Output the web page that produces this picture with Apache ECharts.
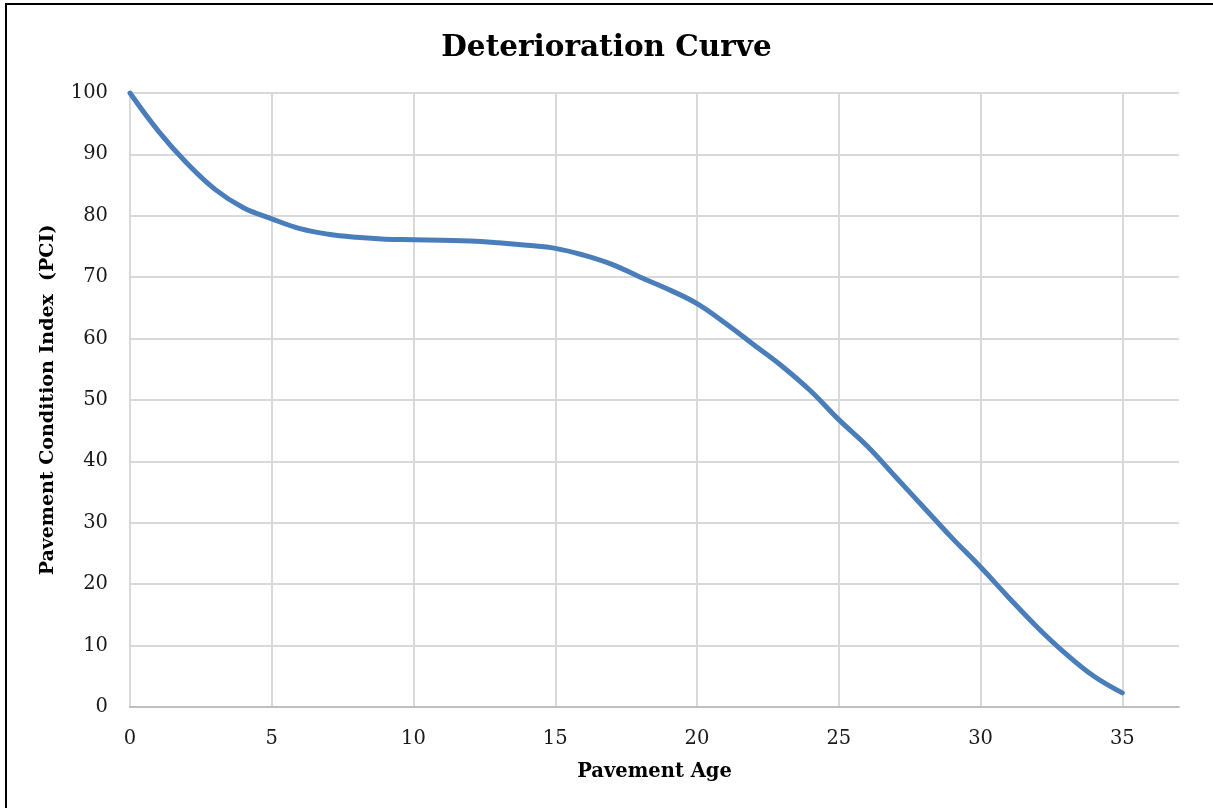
<!DOCTYPE html>
<html>
<head>
<meta charset="utf-8">
<title>Deterioration Curve</title>
<script src="https://cdn.jsdelivr.net/npm/echarts@6/dist/echarts.min.js"></script>
<style>
  html, body { margin: 0; padding: 0; background: #fff; overflow: hidden; width: 1213px; height: 808px; }
  .frame {
    position: absolute;
    left: 5px;
    top: 3px;
    width: 1300px;
    height: 900px;
    border: 2px solid #000;
  }
  #chart { position: absolute; left: 0; top: 0; width: 1213px; height: 808px; }
</style>
</head>
<body>
<div class="frame"></div>
<div id="chart"></div>
<script>
// pavement age (years) and PCI
const ages = [0, 1, 2, 3, 4, 5, 6, 7, 8, 9, 10, 11, 12, 13, 14, 15, 16, 17,
  18, 19, 20, 21, 22, 23, 24, 25, 26, 27, 28, 29, 30, 31, 32, 33, 34, 35];
const pci = [100, 93.8, 88.6, 84.3, 81.3, 79.5, 77.9, 77.0, 76.5, 76.2, 76.1,
  76.0, 75.9, 75.6, 75.2, 74.7, 73.6, 72.1, 70.0, 68.0, 65.7, 62.5, 59.0,
  55.5, 51.5, 46.8, 42.5, 37.5, 32.5, 27.5, 22.8, 17.8, 13.0, 8.7, 5.0, 2.3];
const xTicks = [0, 5, 10, 15, 20, 25, 30, 35];

const serif = "'DejaVu Serif', 'Liberation Serif', serif";

const chart = echarts.init(document.getElementById("chart"));
chart.setOption({
  backgroundColor: "transparent",
  animation: false,
  title: {
    text: "Deterioration Curve",
    left: "center",
    top: 28,
    textStyle: { fontFamily: serif, fontSize: 29.5, fontWeight: "bold", color: "#000" }
  },
  grid: { left: 130, right: 34, top: 93, bottom: 101 },
  xAxis: {
    type: "value",
    min: 0,
    max: 37,
    interval: 5,
    name: "Pavement Age",
    nameLocation: "middle",
    nameGap: 55,
    nameTextStyle: { fontFamily: serif, fontSize: 19.5, fontWeight: "bold", color: "#000" },
    axisLine: { show: true, lineStyle: { color: "#bfbfbf", width: 2 } },
    axisTick: { show: false },
    axisLabel: {
      margin: 22,
      fontFamily: serif,
      fontSize: 19.5,
      color: "#1a1a1a",
      formatter: v => (xTicks.includes(v) ? String(v) : "")
    },
    splitLine: { show: true, showMaxLine: false, lineStyle: { color: "#d9d9d9", width: 2 } }
  },
  yAxis: {
    type: "value",
    min: 0,
    max: 100,
    interval: 10,
    name: "Pavement Condition Index  (PCI)",
    nameLocation: "middle",
    nameGap: 72,
    nameTextStyle: { fontFamily: serif, fontSize: 19, fontWeight: "bold", color: "#000" },
    axisLine: { show: true, lineStyle: { color: "#d9d9d9", width: 2 } },
    axisTick: { show: false },
    axisLabel: { margin: 22, fontFamily: serif, fontSize: 19.5, color: "#1a1a1a" },
    splitLine: { show: true, lineStyle: { color: "#d9d9d9", width: 2 } }
  },
  series: [{
    type: "line",
    data: ages.map((a, i) => [a, pci[i]]),
    smooth: 0.4,
    showSymbol: false,
    lineStyle: { color: "#4a7ebb", width: 5, cap: "round" }
  }]
});
</script>
</body>
</html>
